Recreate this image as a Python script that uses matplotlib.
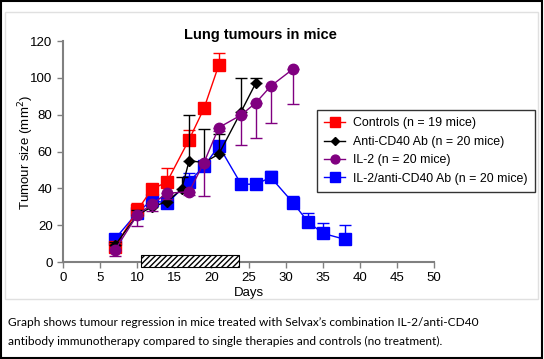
import numpy as np
import matplotlib
matplotlib.use("Agg")
from matplotlib import pyplot as plt
from matplotlib.patches import Rectangle
from matplotlib.lines import Line2D

# - - - - - - - DATA - - - - - - -
days_ctrl = [7, 10, 12, 14, 17, 19, 21]
ctrl = [8, 28, 39.6, 43.4, 66.5, 83.4, 107]
ctrl_err = [2, 4, 2, 7.6, 5, 3, 6.5]

days_cd40 = [7, 10, 12, 14, 16, 17, 19, 21, 24, 26]
cd40 = [9, 25.5, 30, 32.7, 39.6, 55, 54, 58.6, 81.6, 97.3]
cd40_err = [2, 3, 2, 3, 6.4, 25, 18, 11, 18.4, 2.7]

days_il2 = [7, 10, 12, 14, 17, 19, 21, 24, 26, 28, 31]
il2 = [6.5, 25.5, 31.5, 37.3, 38.2, 54, 73, 79.8, 86.5, 95.5, 104.8]
il2_err = [3, 6, 4, 3, 2, 18, 2, 16, 19, 20, 19]

days_combo = [7, 10, 12, 14, 17, 19, 21, 24, 26, 28, 31, 33, 35, 38]
combo = [12.5, 26.8, 33.7, 31.8, 43.6, 52, 63, 42.3, 42.2, 46, 32.2, 21.9, 15.6, 12.3]
combo_err = [2, 2, 2, 2, 5, 3, 2, 1.5, 1.5, 3.4, 3.6, 4.9, 5.7, 7.8]

labels = ["Controls (n = 19 mice)", "Anti-CD40 Ab (n = 20 mice)",
          "IL-2 (n = 20 mice)", "IL-2/anti-CD40 Ab (n = 20 mice)"]

treat_start, treat_end = 10.5, 23.7

caption = ("Graph shows tumour regression in mice treated with Selvax\u2019s combination IL-2/anti-CD40\n"
           "antibody immunotherapy compared to single therapies and controls (no treatment).")

# - - - - - - - PLOT - - - - - - -
plt.rcParams['font.family'] = ['Liberation Sans', 'DejaVu Sans']

fig = plt.figure(figsize=(5.44, 3.59), dpi=100)
ax = fig.add_axes([63 / 544, (359 - 269.4) / 359, 371 / 544, 228.4 / 359])

def zeros(n):
    return [0] * n

styles = [("#ff0000", "s", 8), ("black", "D", 5), ("#800080", "o", 7.5), ("#0000ff", "s", 8)]

ax.errorbar(days_combo, combo, yerr=[zeros(len(combo)), combo_err], color=styles[3][0],
            marker=styles[3][1], ms=styles[3][2], lw=1, capsize=4, elinewidth=1, zorder=3)
ax.errorbar(days_ctrl, ctrl, yerr=[zeros(len(ctrl)), ctrl_err], color=styles[0][0],
            marker=styles[0][1], ms=styles[0][2], lw=1, capsize=4, elinewidth=1, zorder=4)
ax.errorbar(days_cd40, cd40, yerr=[zeros(len(cd40)), cd40_err], color=styles[1][0],
            marker=styles[1][1], ms=styles[1][2], lw=1, capsize=4, elinewidth=1, zorder=5)
ax.errorbar(days_il2, il2, yerr=[il2_err, zeros(len(il2))], color=styles[2][0],
            marker=styles[2][1], ms=styles[2][2], lw=1, capsize=4, elinewidth=1, zorder=6)

# treatment period bar
ax.add_patch(Rectangle((treat_start, -2.7), treat_end - treat_start, 6.5,
                       facecolor="white", edgecolor="black", hatch="//////",
                       lw=0.8, zorder=7))

ax.set_xlim(0, 50)
ax.set_ylim(-4, 120)
ax.set_xticks(np.arange(0, 51, 5))
ax.set_yticks(np.arange(0, 121, 20))
ax.spines['top'].set_visible(False)
ax.spines['right'].set_visible(False)
ax.spines['bottom'].set_position(('data', 0))
ax.spines['left'].set_bounds(0, 120)
for s in ['left', 'bottom']:
    ax.spines[s].set_color("#808080")
    ax.spines[s].set_linewidth(1.5)
ax.tick_params(colors="#808080", labelcolor="black", labelsize=9.5, width=1, length=4)
ax.set_xlabel("Days", fontsize=9.5, labelpad=2)
ax.set_ylabel("Tumour size (mm$^2$)", fontsize=9.5)
ax.yaxis.set_label_coords(-0.073, 0.51)
fig.text(260 / 544, 1 - 35 / 359, "Lung tumours in mice", fontsize=10.5,
         fontweight="bold", ha="center", va="center")

handles = [Line2D([], [], color=c, marker=m, ms=s * 0.85, lw=1) for c, m, s in styles]
leg = ax.legend(handles, labels,
                loc="upper left", bbox_to_anchor=(317 / 544, 1 - 110 / 359),
                bbox_transform=fig.transFigure, fontsize=8.9, frameon=True,
                fancybox=False, edgecolor="black", handlelength=1.7,
                borderpad=0.6, labelspacing=0.52, handletextpad=0.6, borderaxespad=0)
leg.get_frame().set_linewidth(1)

# frames and caption
fig.patches.append(Rectangle((5 / 544, (359 - 299) / 359), 533 / 544, 287 / 359,
                             transform=fig.transFigure, fill=False,
                             edgecolor="#e0e0e0", lw=1))
fig.patches.append(Rectangle((0.001, 0.002), 0.995, 0.996, transform=fig.transFigure,
                             fill=False, edgecolor="black", lw=1.5))
fig.text(8 / 544, 1 - 317 / 359, caption, fontsize=8.6, family=['Lato', 'DejaVu Sans'],
         va="top", ha="left", linespacing=1.9)

fig.savefig("out.png", dpi=100)
